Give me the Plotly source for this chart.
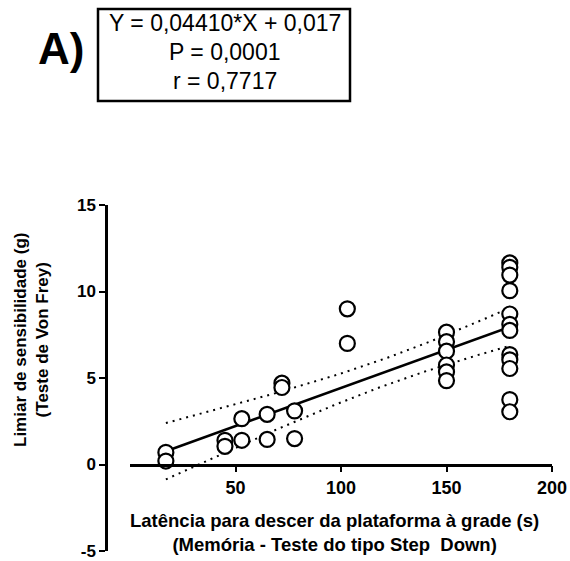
import numpy as np
import plotly.graph_objects as go

# ---- data ----
latencia = [17, 17, 45, 45, 53, 53, 65, 65, 72, 72, 78, 78, 103, 103,
            150, 150, 150, 150, 150, 150,
            180, 180, 180, 180, 180, 180, 180, 180, 180, 180, 180, 180]
limiar = [0.7, 0.2, 1.4, 1.05, 2.65, 1.4, 2.9, 1.45, 4.7, 4.45, 3.1, 1.5, 9.0, 7.0,
          7.65, 7.1, 6.55, 5.75, 5.35, 4.85,
          11.65, 11.4, 10.95, 10.05, 8.7, 8.1, 7.75, 6.35, 6.05, 5.55, 3.75, 3.05]
slope = 0.04410
intercept = 0.017
x_ticks = [50, 100, 150, 200]
y_ticks = [-5, 0, 5, 10, 15]
box_lines = ["Y = 0,04410*X + 0,017", "P = 0,0001", "r = 0,7717"]

# ---- regression line and 95% confidence band ----
xa = np.array(latencia, dtype=float)
ya = np.array(limiar, dtype=float)
n = len(xa)
xfit = np.linspace(xa.min(), xa.max(), 100)
yfit = slope * xfit + intercept
resid = ya - (slope * xa + intercept)
s = np.sqrt(np.sum(resid ** 2) / (n - 2))
sxx = np.sum((xa - xa.mean()) ** 2)
tval = 2.042
half = tval * s * np.sqrt(1.0 / n + (xfit - xa.mean()) ** 2 / sxx)

W, H = 570, 561
L, R, T, B = 106, 18, 205, 10
PW, PH = W - L - R, H - T - B


def px(p):
    return (p - L) / PW


def py(p):
    return (H - B - p) / PH


FONT = "Liberation Sans, Arial, sans-serif"

fig = go.Figure()
fig.add_trace(go.Scatter(x=xfit, y=yfit + half, mode="lines",
                         line=dict(color="black", width=2, dash="2px,5px"),
                         hoverinfo="skip", showlegend=False))
fig.add_trace(go.Scatter(x=xfit, y=yfit - half, mode="lines",
                         line=dict(color="black", width=2, dash="2px,5px"),
                         hoverinfo="skip", showlegend=False))
fig.add_trace(go.Scatter(x=xfit, y=yfit, mode="lines",
                         line=dict(color="black", width=2.5),
                         showlegend=False))
fig.add_trace(go.Scatter(x=latencia, y=limiar, mode="markers",
                         marker=dict(size=15, color="white",
                                     line=dict(color="black", width=2.2)),
                         cliponaxis=False, showlegend=False))

fig.update_layout(
    width=W, height=H,
    margin=dict(l=L, r=R, t=T, b=B, autoexpand=False),
    paper_bgcolor="white", plot_bgcolor="white",
    font=dict(family=FONT, color="black"),
    xaxis=dict(domain=[px(130), 1], range=[0, 200], anchor="free", position=0.25,
               automargin=False,
               tickvals=x_ticks, ticktext=["<b>%d</b>" % v for v in x_ticks],
               ticks="outside", ticklen=6, tickwidth=2, tickcolor="black",
               showline=True, linewidth=2.5, linecolor="black",
               showgrid=False, zeroline=False,
               tickfont=dict(size=18, family=FONT)),
    yaxis=dict(domain=[0, 1], range=[-5, 15], anchor="free", position=0,
               automargin=False,
               tickvals=y_ticks, ticktext=["<b>%d</b>" % v for v in y_ticks],
               ticks="outside", ticklen=6, tickwidth=2, tickcolor="black",
               showline=True, linewidth=2.5, linecolor="black",
               showgrid=False, zeroline=False,
               tickfont=dict(size=17, family=FONT)),
)

# x axis title
fig.add_annotation(xref="paper", yref="paper", x=px(334), y=py(532),
                   text="<b>Latência para descer da plataforma à grade (s)<br>(Memória - Teste do tipo Step&nbsp; Down)</b>",
                   showarrow=False, font=dict(size=18.5, family=FONT),
                   xanchor="center", yanchor="middle")
# y axis title
fig.add_annotation(xref="paper", yref="paper", x=px(31), y=py(340),
                   text="<b>Limiar de sensibilidade (g)<br>(Teste de Von Frey)</b>",
                   textangle=-90, showarrow=False, font=dict(size=17, family=FONT),
                   xanchor="center", yanchor="middle")
# panel label
fig.add_annotation(xref="paper", yref="paper", x=px(61), y=py(48),
                   text="<b>A)</b>", showarrow=False, font=dict(size=44, family=FONT),
                   xanchor="center", yanchor="middle")
# equation box
fig.add_shape(type="rect", xref="paper", yref="paper",
              x0=px(98), x1=px(350), y0=py(101), y1=py(9),
              line=dict(color="black", width=2.5), fillcolor="white")
for line_text, yc in zip(box_lines, [23, 52, 81]):
    fig.add_annotation(xref="paper", yref="paper", x=px(225), y=py(yc),
                       text=line_text, showarrow=False,
                       font=dict(size=23, family=FONT),
                       xanchor="center", yanchor="middle")

fig.write_html("out.html")
